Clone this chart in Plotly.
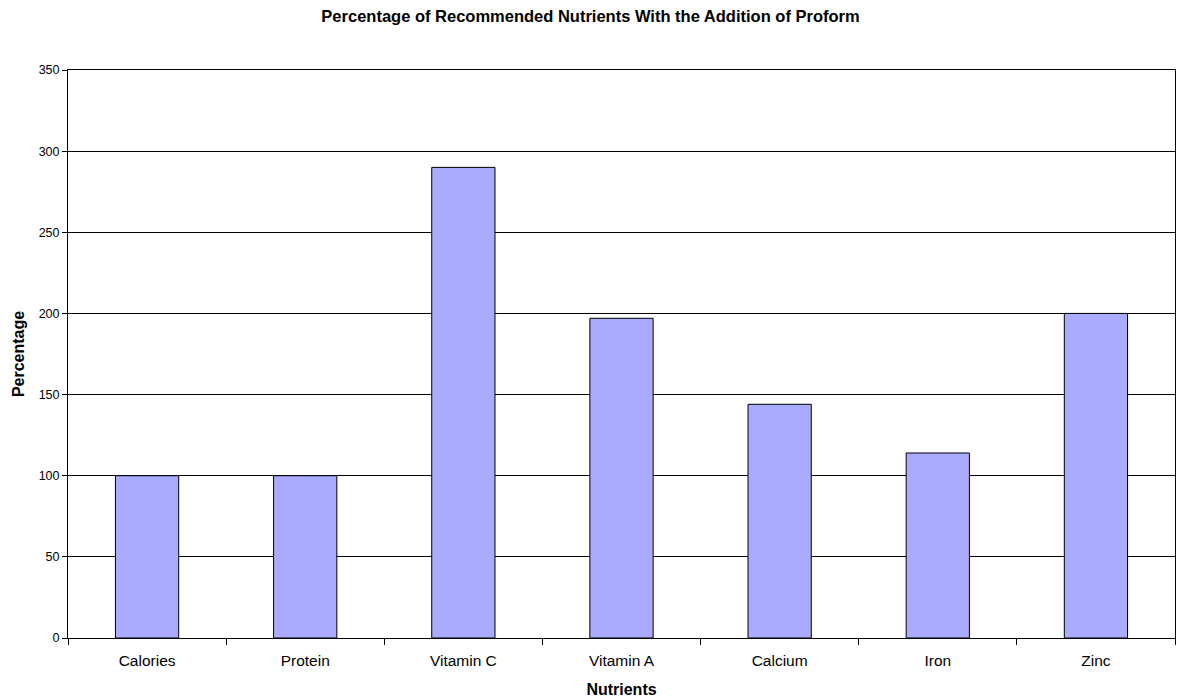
import plotly.graph_objects as go

categories = ["Calories", "Protein", "Vitamin C", "Vitamin A", "Calcium", "Iron", "Zinc"]
values = [100, 100, 290, 197, 144, 114, 200]
y_ticks = [0, 50, 100, 150, 200, 250, 300, 350]

fig = go.Figure()
fig.add_trace(go.Bar(
    x=categories, y=values,
    marker=dict(color="#aaaaff", line=dict(color="#000000", width=1)),
))

font = "Liberation Sans, Arial, sans-serif"
fig.update_layout(
    width=1181, height=698,
    margin=dict(l=68, r=6, t=70, b=60),
    paper_bgcolor="white", plot_bgcolor="white",
    bargap=0.6,
    showlegend=False,
    font=dict(family=font, size=13, color="black"),
    title=dict(text="<b>Percentage of Recommended Nutrients With the Addition of Proform</b>",
               x=0.5, xanchor="center", y=1 - 16 / 698, yanchor="middle",
               font=dict(family=font, size=16.5, color="black")),
    xaxis=dict(
        title=dict(text="<b>Nutrients</b>", font=dict(family=font, size=16), standoff=16),
        showline=True, linecolor="black", linewidth=1, mirror=True,
        ticks="outside", ticklen=6, tickcolor="black", tickson="boundaries",
        ticklabelstandoff=8, automargin=False,
        showgrid=False, tickfont=dict(size=15.5),
    ),
    yaxis=dict(
        title=dict(text="<b>Percentage</b>", font=dict(family=font, size=16), standoff=10),
        range=[0, 350], tickvals=y_ticks, automargin=False,
        showline=True, linecolor="black", linewidth=1, mirror=True,
        ticks="outside", ticklen=5, tickcolor="black",
        showgrid=True, gridcolor="black", gridwidth=1,
        tickfont=dict(size=12.5), zeroline=False,
    ),
)

fig.write_html(
    "out.html",
    config={"displayModeBar": False},
    post_script="document.body.style.margin='0';document.body.style.overflow='hidden';",
)
